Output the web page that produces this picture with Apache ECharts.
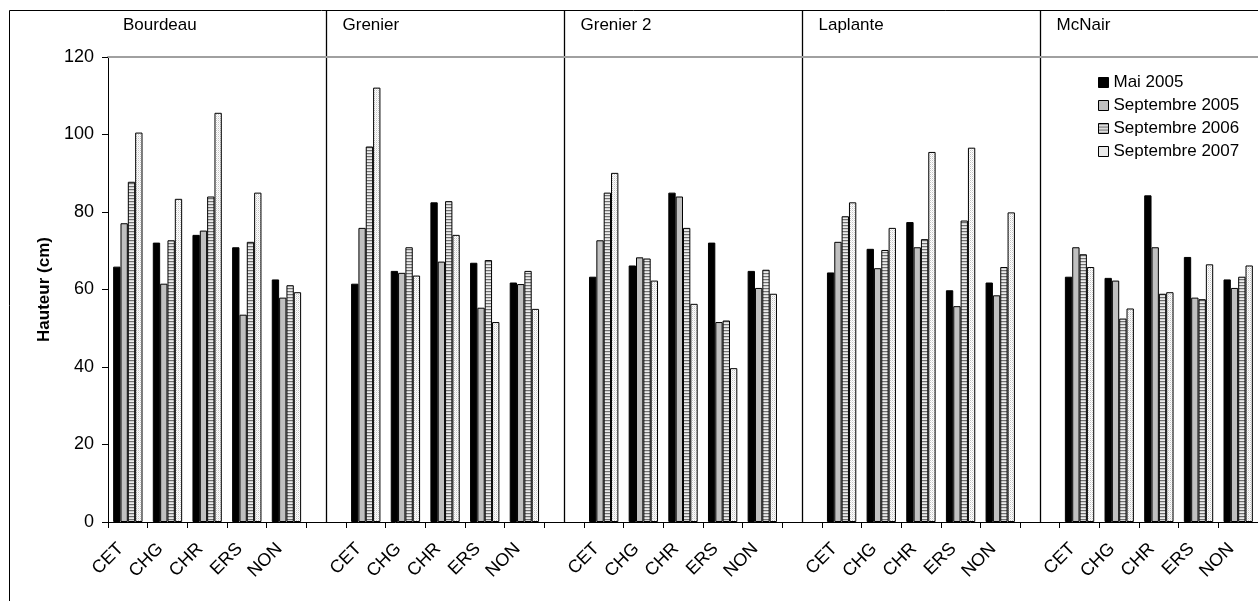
<!DOCTYPE html>
<html>
<head>
<meta charset="utf-8">
<script src="https://cdn.jsdelivr.net/npm/echarts@6/dist/echarts.min.js"></script>
<style>
html,body{margin:0;padding:0;background:#fff;}
#chart{width:1258px;height:601px;}
</style>
</head>
<body>
<div id="chart"></div>
<script>
const sites = ['Bourdeau', 'Grenier', 'Grenier 2', 'Laplante', 'McNair'];
const treatments = ['CET', 'CHG', 'CHR', 'ERS', 'NON'];
const seriesNames = ['Mai 2005', 'Septembre 2005', 'Septembre 2006', 'Septembre 2007'];
const yTicks = [0, 20, 40, 60, 80, 100, 120];
// values per site, in treatment order CET, CHG, CHR, ERS, NON
const mai2005 = [65.9, 72.1, 74.1, 70.9, 62.6,  61.5, 64.8, 82.5, 66.9, 61.8,  63.3, 66.2, 85.0, 72.1, 64.8,  64.4, 70.5, 77.4, 59.8, 61.8,  63.3, 63.0, 84.3, 68.4, 62.6];
const sept2005 = [77.1, 61.5, 75.2, 53.5, 57.9,  75.9, 64.3, 67.2, 55.3, 61.4,  72.7, 68.3, 84.0, 51.6, 60.4,  72.3, 65.5, 70.9, 55.7, 58.5,  70.9, 62.3, 70.9, 57.9, 60.4];
const sept2006 = [87.8, 72.7, 84.0, 72.3, 61.1,  96.9, 70.9, 82.8, 67.6, 64.8,  85.0, 68.0, 75.9, 52.0, 65.1,  78.9, 70.2, 73.0, 77.8, 65.8,  69.1, 52.5, 58.9, 57.5, 63.3];
const sept2007 = [100.5, 83.4, 105.6, 85.0, 59.3,  112.1, 63.6, 74.1, 51.6, 55.0,  90.1, 62.3, 56.3, 39.7, 58.9,  82.5, 75.9, 95.5, 96.6, 79.9,  65.8, 55.1, 59.3, 66.5, 66.2];

const FONT = 'Liberation Sans, Arial, sans-serif';

function makePattern(w, h, pixels) {
  const c = document.createElement('canvas');
  c.width = w; c.height = h;
  const ctx = c.getContext('2d');
  for (let y = 0; y < h; y++) for (let x = 0; x < w; x++) {
    ctx.fillStyle = pixels[y][x];
    ctx.fillRect(x, y, 1, 1);
  }
  return { image: c, repeat: 'repeat' };
}
const stripe = makePattern(2, 3, [['#707070', '#707070'], ['#d0d0d0', '#d0d0d0'], ['#ececec', '#ececec']]);
const dots = makePattern(2, 2, [['#c4c4c4', '#ffffff'], ['#ffffff', '#e6e6e6']]);
const fills = ['#000000', '#c0c0c0', stripe, dots];

// build categories with a blank slot between sites
const categories = [];
const blankIdx = [];
sites.forEach((s, i) => {
  treatments.forEach(t => categories.push(t));
  if (i < sites.length - 1) { blankIdx.push(categories.length); categories.push(''); }
});
function expand(arr) {
  const out = [];
  sites.forEach((s, i) => {
    for (let k = 0; k < treatments.length; k++) out.push(arr[i * treatments.length + k]);
    if (i < sites.length - 1) out.push(null);
  });
  return out;
}
const allValues = [mai2005, sept2005, sept2006, sept2007];

const chart = echarts.init(document.getElementById('chart'), null, { renderer: 'canvas' });
const option = {
  animation: false,
  backgroundColor: '#ffffff',
  textStyle: { fontFamily: FONT },
  grid: { left: 108, right: -2, top: 57, bottom: 79, containLabel: false },
  legend: {
    orient: 'vertical',
    left: 1093,
    top: 69,
    icon: 'rect',
    itemWidth: 10,
    itemHeight: 10,
    itemGap: 6,
    textStyle: { fontFamily: FONT, fontSize: 17, color: '#000', lineHeight: 17, padding: [0, 0, 0, 0] },
    itemStyle: { borderColor: '#000', borderWidth: 1 },
    data: seriesNames
  },
  xAxis: [{
    type: 'category',
    data: categories,
    boundaryGap: true,
    axisLine: { lineStyle: { color: '#000', width: 1 } },
    axisTick: { show: true, interval: 0, length: 6, lineStyle: { color: '#000' } },
    axisLabel: { interval: 0, rotate: 45, margin: 17, padding: [0, 10, 0, 0], fontFamily: FONT, fontSize: 18, color: '#000' },
    splitLine: { show: false }
  }, {
    type: 'category',
    data: categories,
    position: 'top',
    axisLine: { lineStyle: { color: '#a0a0a0', width: 2 } },
    axisTick: { show: false },
    axisLabel: { show: false },
    splitLine: { show: false }
  }],
  yAxis: {
    type: 'value',
    min: 0, max: 120, interval: 20,
    name: 'Hauteur (cm)',
    nameLocation: 'middle',
    nameGap: 52,
    nameRotate: 90,
    nameTextStyle: { fontFamily: FONT, fontSize: 17, fontWeight: 'bold', color: '#000' },
    axisLine: { show: true, lineStyle: { color: '#000', width: 1 } },
    axisTick: { show: true, length: 6, inside: false, lineStyle: { color: '#000' } },
    axisLabel: { margin: 14, fontFamily: FONT, fontSize: 18, color: '#000',
      formatter: v => (yTicks.indexOf(v) >= 0 ? String(v) : '') },
    splitLine: { show: false }
  },
  series: seriesNames.map((name, i) => ({
    name: name,
    type: 'bar',
    data: expand(allValues[i]),
    barGap: '0%',
    barCategoryGap: '26%',
    itemStyle: { color: fills[i], borderColor: '#000', borderWidth: 1 },
    emphasis: { disabled: true }
  }))
};
chart.setOption(option);

// separators and site labels, positioned through the axis scales
const p0 = chart.convertToPixel({ xAxisIndex: 0 }, 0);
const p1 = chart.convertToPixel({ xAxisIndex: 0 }, 1);
const bw = p1 - p0;
const axisY = chart.convertToPixel({ yAxisIndex: 0 }, 0);
const frameTop = 10;
const graphics = [];
// outer frame (top and left edges)
graphics.push({ type: 'line', shape: { x1: 9.5, y1: frameTop + 0.5, x2: 1258, y2: frameTop + 0.5 }, style: { stroke: '#000', lineWidth: 1 } });
graphics.push({ type: 'line', shape: { x1: 9.5, y1: frameTop + 0.5, x2: 9.5, y2: 601 }, style: { stroke: '#000', lineWidth: 1 } });
const siteStarts = [p0 - bw / 2 + 15];
blankIdx.forEach(idx => {
  const x = Math.round(chart.convertToPixel({ xAxisIndex: 0 }, idx)) + 0.5;
  graphics.push({ type: 'line', shape: { x1: x, y1: frameTop, x2: x, y2: axisY }, style: { stroke: '#000', lineWidth: 1.3 } });
  siteStarts.push(x + 16);
});
sites.forEach((s, i) => {
  graphics.push({ type: 'text', x: siteStarts[i], y: 25, style: { text: s, fontFamily: FONT, fontSize: 17, fill: '#000', textAlign: 'left', textVerticalAlign: 'middle' } });
});
chart.setOption({ graphic: graphics });
</script>
</body>
</html>
